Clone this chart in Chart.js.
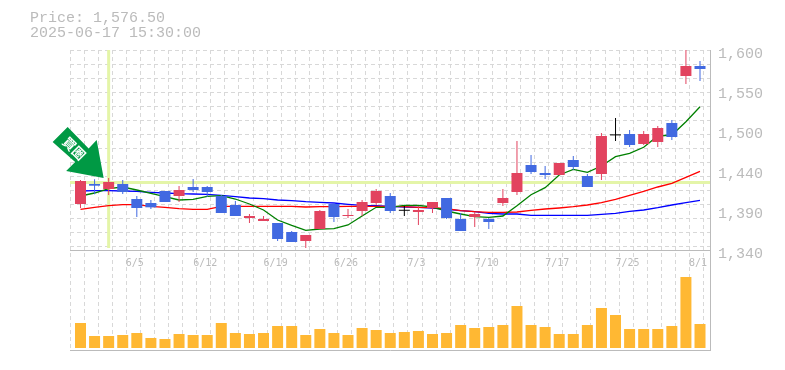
<!DOCTYPE html>
<html>
<head>
<meta charset="utf-8">
<style>
    body { margin: 0; background: #fff; }
    #price { position: absolute; left: 30px; top: 11px; font: 15px/15px "Liberation Mono", monospace; color: #bbb; white-space: pre; }
    canvas { position: absolute; left: 0; top: 0; }
</style>
<script src="https://cdn.jsdelivr.net/npm/chart.js@4/dist/chart.umd.min.js"></script>
</head>
<body>
<canvas id="chart" width="785" height="370"></canvas>
<div id="price">Price: 1,576.50
2025-06-17 15:30:00</div>
<script>
const dates = ["5/30","6/2","6/3","6/4","6/5","6/6","6/9","6/10","6/11","6/12",
    "6/13","6/16","6/17","6/18","6/19","6/20","6/23","6/24","6/25","6/26",
    "6/27","6/30","7/1","7/2","7/3","7/4","7/7","7/8","7/9","7/10",
    "7/11","7/14","7/15","7/16","7/17","7/18","7/22","7/23","7/24","7/25",
    "7/28","7/29","7/30","7/31","8/1"];
const dateTicks = [4, 9, 14, 19, 24, 29, 34, 39, 44];

const opens = [1399.8,1425.8,1419.3,1425.8,1406.3,1401.1,1416.7,1410.2,1421.9,1421.9,
    1410.2,1398.5,1381.6,1377.7,1375.1,1363.4,1351.7,1367.3,1399.8,1384.2,
    1390.7,1401.1,1410.2,1391,1389.4,1394.6,1407.6,1380.3,1382.9,1380.3,
    1401.1,1415.4,1450.5,1440.1,1437.5,1457,1436.2,1438.8,1489,1490.8,
    1477.8,1480.4,1505.1,1566.2,1579.2];
const closes = [1429.7,1423.6,1428.4,1415.4,1394.6,1395.5,1402.4,1418,1418,1415.4,
    1388.1,1384.2,1384.2,1380.3,1354.3,1350.4,1359.5,1390.7,1382.9,1385.5,
    1402.4,1416.7,1390.7,1391,1392,1402.4,1381.6,1364.7,1386.8,1376.4,
    1407.6,1440.1,1441.4,1437.5,1453.1,1447.9,1421.9,1488.2,1489,1476.5,
    1490.8,1498.6,1486.9,1579.2,1575.3];
const highs = [1431,1431.9,1433.6,1431,1410.2,1405,1416.7,1423.2,1432.3,1423.2,
    1411.5,1403.7,1386.8,1384.2,1375.1,1364.7,1359.5,1392,1401.1,1393.3,
    1405,1419.3,1414.1,1397.2,1397.2,1402.4,1407.6,1388.1,1389.4,1381.6,
    1419.3,1481.7,1463.5,1449.2,1453.1,1462.2,1438.8,1492.1,1511.6,1496,
    1494.7,1501.2,1509,1600,1585.7];
const lows = [1394.6,1412.4,1411.5,1412.8,1382.9,1393.3,1402.4,1402.4,1415.4,1408.9,
    1388.1,1384.2,1375.1,1377.7,1351.7,1350.4,1342.6,1367.3,1376.4,1381.6,
    1384.2,1398.5,1388.1,1384.2,1372.5,1388.1,1380.3,1364.7,1369.9,1367.3,
    1397.2,1411.5,1438.8,1432.3,1437.5,1444,1421.9,1431,1481.7,1473.9,
    1476.5,1473.9,1483,1555.8,1559.7];

const maShort = [1410.2,1414.1,1419.7,1421.9,1418,1413.7,1409.3,1405,1405.9,1409.8,
    1410.6,1406.3,1399.8,1392,1379,1371.9,1365.6,1367.3,1367.7,1372.5,
    1384.2,1395.5,1395.5,1398.1,1398.1,1395.9,1390.7,1386.8,1383.3,1382.5,
    1384.2,1397.6,1411.9,1421,1437.5,1444.9,1441,1449.2,1461.3,1465.7,
    1473.5,1488.2,1489.5,1506.8,1526.3];
const maMiddle = [1392.9,1395.5,1397.6,1398.9,1398.9,1396.8,1395.5,1393.7,1392.9,1392.9,
    1396.8,1396.8,1396.8,1396.8,1396.8,1396.8,1395.9,1396.3,1396.3,1396.8,
    1396.8,1396.8,1396.8,1396.3,1395.5,1395,1393.7,1391.1,1389.8,1389,
    1389,1389.4,1391.6,1393.3,1394.6,1396.3,1398.5,1401.5,1405.9,1411.1,
    1416.3,1421.9,1426.7,1434.5,1442.3];
const maLong = [1416.7,1417.1,1417.1,1416.7,1416.3,1415,1414.1,1413.2,1412.8,1412.4,
    1411.1,1409.3,1407.6,1406.7,1405,1404.1,1402.8,1402,1401.1,1399.4,
    1398.1,1397.6,1396.8,1395.9,1395.5,1394.6,1392.9,1391.1,1389.8,1387.7,
    1386.8,1386.8,1385.1,1385.1,1385.1,1385.1,1385.1,1386.4,1387.7,1390.3,
    1392,1395,1398.5,1401.5,1404.6];

const volumes = [25,12,12,13,15,10,9,14,13,13,
    25,15,14,15,22,22,13,19,15,13,
    20,18,15,16,17,14,15,23,20,21,
    23,42,23,21,14,14,23,40,33,19,
    19,19,22,71,24];

const priceTicks = [1340, 1392, 1444, 1496, 1548, 1600];
const priceTickLabels = ["1,340", "1,390", "1,440", "1,500", "1,550", "1,600"];
const markerIndex = 2;
const markerPrice = 1427.75;

const TEXT = "#bbb";
const AXIS = "#bbb";
const GRID = "#d8d8d8";
const GUIDE = "#e4f5a8";
const xMin = -0.745, xMax = 44.71;

const candleColor = (o, c) => (c > o ? "#e2435f" : c < o ? "#4169e1" : "#000");
const colors = opens.map((o, i) => candleColor(o, closes[i]));
const maLine = (label, data, color) => ({
    type: "line", label, order: 4, borderColor: color, borderWidth: 1.3, pointRadius: 0, tension: 0,
    yAxisID: "y", data: data.map((y, x) => ({ x, y }))
});

// green arrow over the marker candle
const arrowPlugin = {
    id: "arrow",
    afterDatasetsDraw(chart) {
        const { ctx, scales } = chart;
        const tipX = scales.x.getPixelForValue(markerIndex) - 5;
        const tipY = scales.y.getPixelForValue(highs[markerIndex]);
        const path = [[0, 0], [-37.5, -7], [-28.5, -16], [-51, -36], [-36, -51], [-15, -29.5], [-7, -38]];
        ctx.save();
        ctx.translate(tipX, tipY);
        ctx.fillStyle = "#009944";
        ctx.beginPath();
        path.forEach(([x, y], i) => (i ? ctx.lineTo(x, y) : ctx.moveTo(x, y)));
        ctx.closePath();
        ctx.fill();
        ctx.translate(-29.5, -29.5);
        ctx.rotate(Math.PI / 4);
        ctx.fillStyle = "#fff";
        ctx.font = "bold 13px 'Noto Sans CJK JP'";
        ctx.textAlign = "center";
        ctx.textBaseline = "middle";
        ctx.fillText("買圏", 0, 0);
        ctx.restore();
    }
};

new Chart(document.getElementById("chart"), {
    type: "bar",
    plugins: [arrowPlugin],
    data: {
        datasets: [
            {
                type: "line", label: "guide h", order: 6, borderColor: GUIDE, borderWidth: 3, pointRadius: 0,
                data: [{ x: xMin, y: markerPrice }, { x: xMax, y: markerPrice }]
            },
            {
                type: "line", label: "guide v", order: 6, borderColor: GUIDE, borderWidth: 3, pointRadius: 0,
                data: [{ x: markerIndex, y: priceTicks[5] }, { x: markerIndex, y: lows[16] }]
            },
            maLine("short", maShort, "#008000"),
            maLine("middle", maMiddle, "#ff0000"),
            maLine("long", maLong, "#0000ff"),
            {
                label: "wick", order: 2, yAxisID: "y", barThickness: 1, inflateAmount: 0,
                backgroundColor: colors,
                data: highs.map((h, x) => ({ x, y: [lows[x], h] }))
            },
            {
                label: "body", order: 1, yAxisID: "y", barThickness: 11, minBarLength: 1, inflateAmount: 0,
                backgroundColor: colors,
                data: opens.map((o, x) => ({ x, y: [o, closes[x]] }))
            },
            {
                label: "volume", order: 1, yAxisID: "v", barThickness: 11, inflateAmount: 0,
                backgroundColor: "#ffb833",
                data: volumes.map((y, x) => ({ x, y }))
            }
        ]
    },
    options: {
        responsive: false,
        animation: false,
        events: [],
        layout: { padding: { top: 50, bottom: 20, left: 70, right: 0 } },
        datasets: { bar: { grouped: false } },
        plugins: { legend: { display: false }, tooltip: { enabled: false } },
        scales: {
            x: {
                type: "linear",
                position: { y: 1340 },
                offset: false, // bar charts turn this on by default
                min: xMin,
                max: xMax,
                grid: { display: false, drawTicks: false, offset: false },
                border: { display: true, color: AXIS, width: 1 },
                afterBuildTicks: axis => { axis.ticks = dateTicks.map(value => ({ value })); },
                afterFit: axis => { axis.paddingLeft = 0; axis.paddingRight = 0; },
                ticks: {
                    autoSkip: false,
                    maxRotation: 0,
                    padding: 7,
                    labelOffset: -2,
                    color: TEXT,
                    font: { family: "'DejaVu Sans Mono'", size: 10 },
                    callback: value => dates[value]
                }
            },
            gridX: {
                type: "linear",
                position: "bottom",
                offset: false,
                min: 0,
                max: 640 / 14.08,
                grid: { color: GRID, drawTicks: false, offset: false },
                border: { display: true, color: AXIS, width: 1, dash: [4, 3] },
                ticks: { display: false, stepSize: 1, includeBounds: false, autoSkip: false }
            },
            y: {
                type: "linear",
                position: "right",
                min: 1210,
                max: 1600,
                grid: { display: false, drawTicks: false },
                border: { display: true, color: AXIS, width: 1 },
                afterBuildTicks: axis => { axis.ticks = priceTicks.map(value => ({ value })); },
                afterFit: axis => { axis.width = 75; },
                ticks: {
                    autoSkip: false,
                    padding: 8,
                    labelOffset: 4,
                    color: TEXT,
                    font: { family: "'Liberation Mono'", size: 15 },
                    callback: (value, i) => priceTickLabels[i]
                }
            },
            gridY: {
                type: "linear",
                position: "left",
                reverse: true,
                min: 0,
                max: 300 / 14.03,
                grid: { color: GRID, drawTicks: false },
                border: { display: false, dash: [4, 3] },
                afterBuildTicks: axis => { axis.ticks = axis.ticks.filter(t => t.value <= 14); },
                ticks: { display: false, stepSize: 1, includeBounds: false, autoSkip: false }
            },
            v: { type: "linear", display: false, min: -2, max: 298 }
        }
    }
});
</script>
</body>
</html>
